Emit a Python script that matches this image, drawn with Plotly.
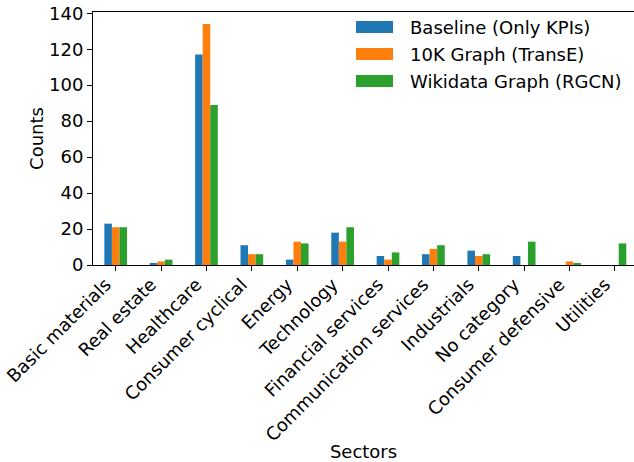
import plotly.graph_objects as go

sectors = ["Basic materials", "Real estate", "Healthcare", "Consumer cyclical", "Energy",
           "Technology", "Financial services", "Communication services", "Industrials",
           "No category", "Consumer defensive", "Utilities"]
baseline = [23, 1, 117, 11, 3, 18, 5, 6, 8, 5, 0, 0]
transe = [21, 2, 134, 6, 13, 13, 3, 9, 5, 0, 2, 0]
rgcn = [21, 3, 89, 6, 12, 21, 7, 11, 6, 13, 1, 12]

series_names = ["Baseline (Only KPIs)", "10K Graph (TransE)", "Wikidata Graph (RGCN)"]
colors = ["#1f77b4", "#ff7f0e", "#2ca02c"]

W, H = 634, 462
ML, MR, MT, MB = 93, 0, 12, 197
PW, PH = W - ML - MR, H - MT - MB

fig = go.Figure()
for name, vals, c in zip(series_names, [baseline, transe, rgcn], colors):
    fig.add_trace(go.Bar(x=sectors, y=vals, name=name, marker_color=c,
                         marker_line_width=0, showlegend=False))

# custom legend (patches + labels), placed like matplotlib's upper-right legend
def px2paper(x, y):
    return (x - ML) / PW, (H - MB - y) / PH

rows_y = [27, 54, 81]
for name, c, ry in zip(series_names, colors, rows_y):
    x0, y0 = px2paper(356, ry - 6)
    x1, y1 = px2paper(393, ry + 6)
    fig.add_shape(type="rect", xref="paper", yref="paper", x0=x0, x1=x1, y0=y1, y1=y0,
                  fillcolor=c, line_width=0)
    tx, ty = px2paper(408, ry)
    fig.add_annotation(xref="paper", yref="paper", x=tx, y=ty, text=name, showarrow=False,
                       xanchor="left", yanchor="middle",
                       font=dict(family="DejaVu Sans", size=18, color="black"))

fig.update_layout(
    width=W, height=H,
    margin=dict(l=ML, r=MR, t=MT, b=MB, autoexpand=False),
    plot_bgcolor="white", paper_bgcolor="white",
    barmode="group", bargap=0.5, bargroupgap=0,
    font=dict(family="DejaVu Sans", size=18, color="black"),
    showlegend=False,
)
fig.update_xaxes(
    range=[-0.5, 11.42], tickangle=-45, showline=True, linecolor="black", linewidth=1,
    mirror=True, ticks="outside", ticklen=5, tickcolor="black", showgrid=False,
    title=dict(text="Sectors", font=dict(size=18)), automargin=False,
    tickfont=dict(size=18), ticklabelshift=-10, ticklabelstandoff=-4,
)
fig.update_yaxes(
    range=[0, 140.7], tickvals=[0, 20, 40, 60, 80, 100, 120, 140], showline=True,
    linecolor="black", linewidth=1, ticks="outside", ticklen=5, tickcolor="black",
    showgrid=False, zeroline=False, title=dict(text="Counts", font=dict(size=18), standoff=0),
    automargin=False, tickfont=dict(size=18),
)

fig.write_html("out.html")
